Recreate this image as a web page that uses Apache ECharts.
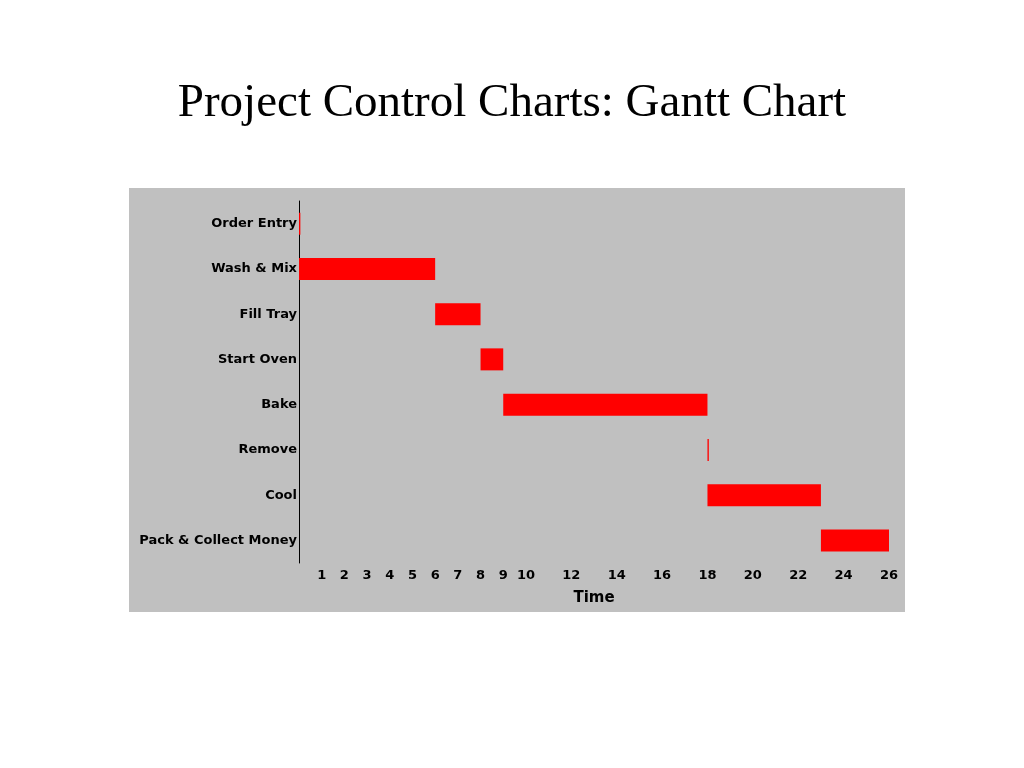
<!DOCTYPE html>
<html><head><meta charset="utf-8">
<script src="https://cdn.jsdelivr.net/npm/echarts@6/dist/echarts.min.js"></script>
<style>html,body{margin:0;background:#fff}#c{width:1024px;height:768px}</style>
</head><body><div id="c"></div>
<script>
var tasks = ['Order Entry','Wash & Mix','Fill Tray','Start Oven','Bake','Remove','Cool','Pack & Collect Money'];
var starts = [0, 0, 6, 8, 9, 18, 18, 23];
var durations = [0.06, 6, 2, 1, 9, 0.06, 5, 3];
var chart = echarts.init(document.getElementById('c'));
chart.setOption({
  backgroundColor:'#fff',
  title:{text:'Project Control Charts: Gantt Chart',left:'center',top:75,
    textStyle:{fontFamily:'Liberation Serif, DejaVu Serif, serif',fontSize:47,fontWeight:'normal',color:'#000'}},
  graphic:[{type:'rect',z:-10,shape:{x:129,y:188,width:776,height:424},style:{fill:'#c0c0c0'}}],
  grid:{left:299,right:135,top:201,bottom:205},
  xAxis:{type:'value',min:0,max:26,interval:1,name:'Time',nameLocation:'middle',nameGap:28,
    nameTextStyle:{fontFamily:'DejaVu Sans',fontWeight:'bold',fontSize:15,color:'#000'},
    axisLine:{lineStyle:{color:'#000',width:1.5}},
    axisTick:{inside:true,length:8,lineStyle:{color:'#000'}},
    splitLine:{show:false},
    axisLabel:{color:'#000',fontFamily:'DejaVu Sans',fontWeight:'bold',fontSize:13,margin:6,
      formatter:function(v){return (v>=1&&v<=10)||(v>10&&v%2===0)?String(v):'';}}},
  yAxis:{type:'category',data:tasks,inverse:true,
    axisLine:{lineStyle:{color:'#000'}},axisTick:{show:false},
    axisLabel:{color:'#000',fontFamily:'DejaVu Sans',fontWeight:'bold',fontSize:13,margin:2}},
  series:[
    {type:'bar',stack:'g',data:starts,itemStyle:{color:'transparent'},barWidth:22,silent:true},
    {type:'bar',stack:'g',data:durations,itemStyle:{color:'#ff0000'},barWidth:22}
  ]
});
</script></body></html>
